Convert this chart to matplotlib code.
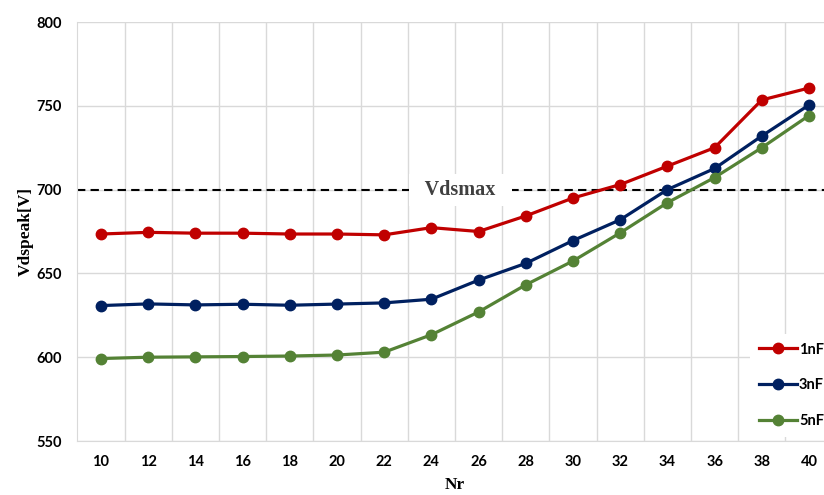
import matplotlib.pyplot as plt
import numpy as np

# peak drain-source voltage vs Nr for three snubber capacitances
nr = [10, 12, 14, 16, 18, 20, 22, 24, 26, 28, 30, 32, 34, 36, 38, 40]
v_1nF = [673.5, 674.5, 674, 674, 673.5, 673.5, 673, 677.3, 675, 684.3, 695, 703, 714, 725, 753.5, 760.6]
v_3nF = [630.8, 631.8, 631.2, 631.6, 631, 631.7, 632.4, 634.6, 646, 656, 669.6, 682, 700, 712.6, 732, 750.5]
v_5nF = [599.2, 600, 600.2, 600.4, 600.7, 601.3, 603, 613.4, 627, 643.2, 657.4, 674.2, 692.2, 707.2, 725, 744.2]
vdsmax = 700

colors = ['#C00000', '#002060', '#548235']
labels = ['1nF', '3nF', '5nF']

tick_font = {'family': 'Lato', 'weight': 'bold', 'size': 10.5}
label_font = {'family': 'Liberation Serif', 'weight': 'bold', 'size': 12.5}

fig = plt.figure(figsize=(8.24, 4.95), dpi=100)
ax = fig.add_axes([77.4/824, 1-441/495, (832.6-77.4)/824, 419/495])

x = np.arange(len(nr))
for vals, c, lab in zip([v_1nF, v_3nF, v_5nF], colors, labels):
    ax.plot(x, vals, color=c, lw=2.3, marker='o', markersize=7.5, label=lab, zorder=3)

ax.axhline(vdsmax, color='black', lw=1.5, linestyle=(0, (4, 2.5)), zorder=2)
ax.text(7.62, vdsmax, '  Vdsmax  ', ha='center', va='center', color='#404040',
        fontfamily='Liberation Serif', fontweight='bold', fontsize=14.5,
        bbox=dict(facecolor='white', edgecolor='none', boxstyle='square,pad=0.3'), zorder=4)

ax.set_xlim(-0.5, len(nr) - 0.5)
ax.set_ylim(550, 800)
ax.set_yticks([550, 600, 650, 700, 750, 800])
ax.set_xticks(x)
ax.set_xticklabels([str(n) for n in nr], fontdict=tick_font)
ax.set_yticklabels([str(v) for v in ax.get_yticks().astype(int)], fontdict=tick_font)
ax.set_xticks(x[:-1] + 0.5, minor=True)
ax.tick_params(which='both', length=0)
ax.tick_params(axis='y', pad=11)
ax.tick_params(axis='x', pad=10)
ax.grid(axis='y', color='#d9d9d9', lw=1)
ax.grid(axis='x', which='minor', color='#d9d9d9', lw=1)
ax.set_axisbelow(True)
for s in ['top', 'right']:
    ax.spines[s].set_visible(False)
for s in ['left', 'bottom']:
    ax.spines[s].set_color('#d9d9d9')

ax.set_xlabel('Nr', fontdict=label_font)
ax.set_ylabel('Vdspeak[V]', fontdict=label_font)
ax.xaxis.set_label_coords(0.5, -0.086)
ax.yaxis.set_label_coords(-0.0575, 0.5)

leg = ax.legend(loc='lower left', bbox_to_anchor=(750/824, 58/495), bbox_transform=fig.transFigure,
                frameon=True, facecolor='white', edgecolor='none', framealpha=1,
                prop={'family': 'Lato', 'weight': 'bold', 'size': 10.5},
                handlelength=2.6, handletextpad=0.15, labelspacing=1.5, borderpad=0.6,
                borderaxespad=0, fancybox=False)
leg.set_zorder(5)

fig.savefig('out.png', dpi=100)
